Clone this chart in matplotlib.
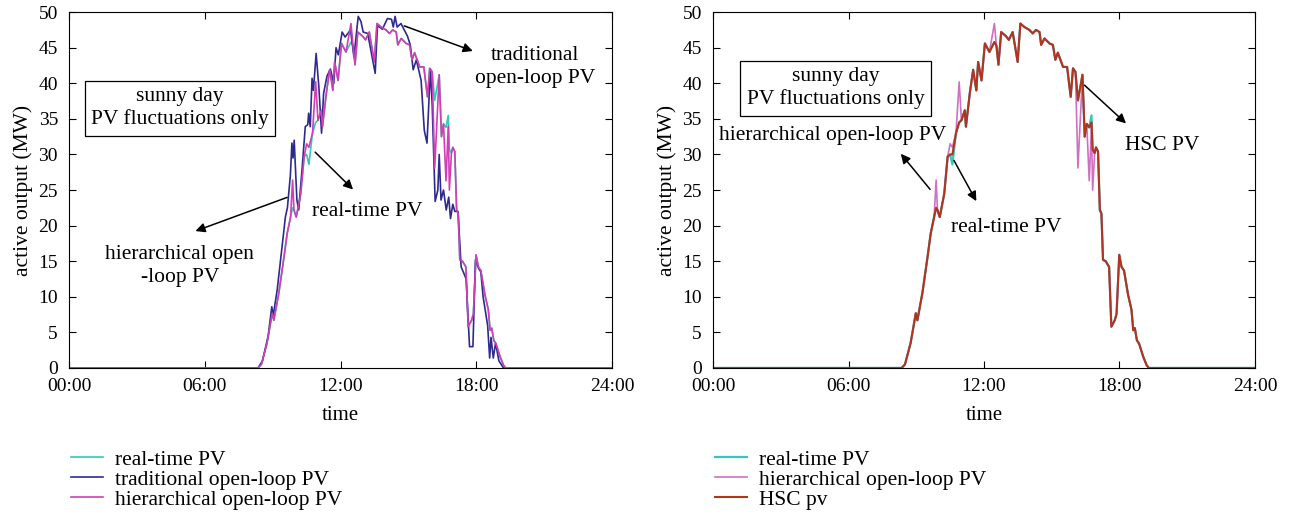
import numpy as np
import matplotlib.pyplot as plt

plt.rcParams['font.family'] = 'Liberation Serif'
plt.rcParams['font.size'] = 15

# real-time PV (hours, MW)
rt_t = [0, 8.35, 8.5, 8.75, 8.98, 9.05, 9.27, 9.5, 9.64, 9.79, 9.88, 9.94, 10.04, 10.24,
        10.39, 10.5, 10.6, 10.76, 10.9, 11.0, 11.15, 11.2, 11.37, 11.52, 11.66, 11.74,
        11.89, 12.04, 12.24, 12.46, 12.55, 12.64, 12.76, 12.98, 13.1, 13.27, 13.49, 13.61,
        13.79, 14.01, 14.16, 14.3, 14.46, 14.53, 14.68, 14.9, 15.05, 15.16, 15.27, 15.5,
        15.68, 15.84, 15.94, 16.05, 16.16, 16.36, 16.46, 16.55, 16.66, 16.76, 16.81, 16.9,
        16.96, 17.05, 17.13, 17.2, 17.27, 17.39, 17.54, 17.64, 17.79, 17.87, 17.99, 18.09,
        18.2, 18.38, 18.53, 18.61, 18.68, 18.77, 18.87, 19.05, 19.2, 19.3, 24]
rt_pv = [0, 0, 0.5, 3.5, 7.7, 6.7, 10.5, 15.6, 18.9, 21.2, 22.5, 22.2, 21.2, 24.5,
         29.7, 30.0, 28.6, 33.0, 34.5, 34.8, 36.2, 33.9, 38.6, 41.9, 39.0, 43.0,
         40.4, 45.6, 44.4, 45.8, 45.3, 42.6, 47.2, 46.6, 46.1, 47.2, 43.0, 48.4,
         47.9, 47.5, 47.0, 47.5, 47.2, 45.4, 46.3, 45.6, 45.4, 43.3, 44.3, 42.3,
         42.3, 38.1, 42.1, 41.6, 37.6, 41.2, 32.5, 34.3, 33.8, 35.5, 30.7, 30.2,
         31.0, 30.4, 22.2, 21.7, 15.2, 15.0, 14.2, 5.8, 6.7, 7.6, 15.9, 14.2,
         13.7, 10.3, 8.2, 5.3, 5.6, 3.9, 3.4, 1.6, 0.4, 0, 0]

# hierarchical open-loop PV (same time grid)
hier_pv = [0, 0, 0.5, 3.5, 7.7, 6.7, 10.5, 15.6, 18.9, 21.2, 26.4, 22.2, 21.2, 24.5,
           29.7, 31.5, 31.0, 33.0, 40.2, 34.8, 36.2, 33.9, 38.6, 41.9, 39.0, 43.0,
           40.4, 45.6, 44.4, 48.4, 45.3, 42.6, 47.2, 46.6, 46.1, 47.2, 43.0, 48.4,
           47.9, 47.5, 47.0, 47.5, 47.2, 45.4, 46.3, 45.6, 45.4, 43.3, 44.3, 42.3,
           42.3, 38.1, 42.1, 41.6, 28.1, 41.2, 32.5, 34.3, 26.3, 34.0, 25.0, 30.2,
           31.0, 30.4, 22.2, 21.7, 15.2, 15.0, 14.2, 5.8, 6.7, 7.6, 15.9, 14.2,
           13.7, 10.3, 8.2, 5.3, 5.6, 3.9, 3.4, 1.6, 0.4, 0, 0]

# HSC pv (same time grid)
hsc_pv = [0, 0, 0.5, 3.5, 7.7, 6.7, 10.5, 15.6, 18.9, 21.2, 22.5, 22.2, 21.2, 24.5,
          29.7, 30.0, 30.0, 33.0, 34.5, 34.8, 36.2, 33.9, 38.6, 41.9, 39.0, 43.0,
          40.4, 45.6, 44.4, 45.8, 45.3, 42.6, 47.2, 46.6, 46.1, 47.2, 43.0, 48.4,
          47.9, 47.5, 47.0, 47.5, 47.2, 45.4, 46.3, 45.6, 45.4, 43.3, 44.3, 42.3,
          42.3, 38.1, 42.1, 41.6, 37.6, 41.2, 32.5, 34.3, 33.8, 34.5, 30.7, 30.2,
          31.0, 30.4, 22.2, 21.7, 15.2, 15.0, 14.2, 5.8, 6.7, 7.6, 15.9, 14.2,
          13.7, 10.3, 8.2, 5.3, 5.6, 3.9, 3.4, 1.6, 0.4, 0, 0]

# traditional open-loop PV
trad_t = [0, 8.35, 8.55, 8.8, 8.96, 9.02, 9.2, 9.48, 9.56, 9.65, 9.78, 9.85, 9.9, 9.95,
          10.07, 10.15, 10.3, 10.44, 10.55, 10.59, 10.66, 10.74, 10.8, 10.92, 11.04,
          11.16, 11.25, 11.4, 11.55, 11.7, 11.8, 11.9, 12.07, 12.2, 12.44, 12.59, 12.78,
          12.9, 13.0, 13.2, 13.53, 13.63, 13.85, 14.07, 14.25, 14.33, 14.41, 14.5, 14.67,
          14.96, 15.08, 15.21, 15.35, 15.56, 15.7, 15.82, 15.97, 16.05, 16.18, 16.3,
          16.36, 16.44, 16.55, 16.67, 16.78, 16.86, 16.96, 17.05, 17.19, 17.33, 17.45,
          17.55, 17.7, 17.85, 17.96, 18.1, 18.2, 18.3, 18.5, 18.59, 18.65, 18.75, 18.85,
          19.0, 19.2, 24]
trad_pv = [0, 0, 1.0, 4.5, 8.6, 7.3, 11.0, 18.9, 21.2, 22.5, 27.0, 31.6, 29.5, 32.0,
           23.6, 22.2, 28.0, 33.9, 34.2, 35.8, 33.9, 40.7, 39.0, 44.2, 39.5,
           33.0, 38.6, 41.0, 42.0, 40.0, 45.0, 44.0, 47.2, 46.5, 47.5, 43.7, 49.4,
           48.7, 47.2, 47.0, 41.4, 48.1, 47.6, 49.1, 49.0, 47.9, 49.4, 47.9, 48.4,
           46.6, 45.4, 41.9, 43.3, 40.4, 33.4, 31.6, 42.0, 37.0, 23.4, 25.0,
           30.0, 23.6, 25.0, 22.2, 24.0, 21.0, 23.0, 22.0, 22.0, 14.2, 13.3,
           12.5, 3.0, 3.0, 15.2, 14.0, 13.5, 10.0, 6.0, 1.4, 4.3, 1.4, 3.5,
           1.0, 0, 0]

xticks = [0, 6, 12, 18, 24]
xtick_labels = ['00:00', '06:00', '12:00', '18:00', '24:00']

c_rt = '#35c6bd'
c_trad = '#2e2a90'
c_hier = '#d040b4'
c_hier2 = '#d070c0'
c_hsc = '#b0341e'

fig = plt.figure(figsize=(12.91, 5.18), dpi=100)
ax1 = fig.add_axes([0.0535, 0.2896, 0.4206, 0.687])
ax2 = fig.add_axes([0.5523, 0.2896, 0.4198, 0.687])

# left panel
ax1.plot(rt_t, rt_pv, color=c_rt, lw=1.2, label='real-time PV')
ax1.plot(trad_t, trad_pv, color=c_trad, lw=1.2, label='traditional open-loop PV')
ax1.plot(rt_t, hier_pv, color=c_hier, lw=1.2, label='hierarchical open-loop PV')

# right panel
ax2.plot(rt_t, rt_pv, color=c_rt, lw=1.6, label='real-time PV')
ax2.plot(rt_t, hier_pv, color=c_hier2, lw=1.2, label='hierarchical open-loop PV')
ax2.plot(rt_t, hsc_pv, color=c_hsc, lw=1.5, label='HSC pv')

box_pos = {ax1: (4.9, 36.5), ax2: (5.42, 39.3)}
for ax in (ax1, ax2):
    ax.set_xlim(0, 24)
    ax.set_ylim(0, 50)
    ax.set_xticks(xticks)
    ax.set_xticklabels(xtick_labels)
    ax.set_yticks(np.arange(0, 51, 5))
    ax.tick_params(direction='in', top=True, right=True, labelsize=14, length=5)
    ax.tick_params(axis='x', pad=7)
    ax.tick_params(axis='y', pad=8)
    ax.set_xlabel('time', fontsize=15, labelpad=8)
    ax.set_ylabel('active output (MW)', fontsize=15.5, labelpad=4)
    bx, by = box_pos[ax]
    ax.text(bx, by, 'sunny day\nPV fluctuations only', ha='center', va='center',
            fontsize=15.5, linespacing=1.2,
            bbox=dict(boxstyle='square,pad=0.3', fc='white', ec='black', lw=0.9))
    ax.legend(loc='upper left', bbox_to_anchor=(-0.012, -0.205), frameon=False,
              fontsize=15.5, handlelength=1.5, handletextpad=0.55,
              labelspacing=0.0, borderaxespad=0)

arrow = dict(arrowstyle='-|>', color='black', lw=1.1, mutation_scale=14)

ax1.annotate('', xy=(17.96, 44.4), xytext=(14.7, 48.2), arrowprops=arrow)
ax1.text(20.6, 42.3, 'traditional\nopen-loop PV', ha='center', va='center', fontsize=15.5,
         linespacing=1.25)
ax1.annotate('', xy=(12.64, 24.8), xytext=(10.79, 30.6), arrowprops=arrow)
ax1.text(13.2, 22.0, 'real-time PV', ha='center', va='center', fontsize=15.5)
ax1.annotate('', xy=(5.47, 19.1), xytext=(9.75, 24.1), arrowprops=arrow)
ax1.text(4.9, 14.3, 'hierarchical open\n-loop PV', ha='center', va='center', fontsize=15.5,
         linespacing=1.25)

ax2.annotate('', xy=(8.24, 30.4), xytext=(9.69, 24.8), arrowprops=arrow)
ax2.text(5.3, 32.6, 'hierarchical open-loop PV', ha='center', va='center', fontsize=15.5)
ax2.annotate('', xy=(11.72, 23.1), xytext=(10.61, 29.5), arrowprops=arrow)
ax2.text(13.0, 19.7, 'real-time PV', ha='center', va='center', fontsize=15.5)
ax2.annotate('', xy=(18.38, 34.1), xytext=(16.36, 40.0), arrowprops=arrow)
ax2.text(19.9, 31.3, 'HSC PV', ha='center', va='center', fontsize=15.5)

fig.savefig('out.png', dpi=100)
